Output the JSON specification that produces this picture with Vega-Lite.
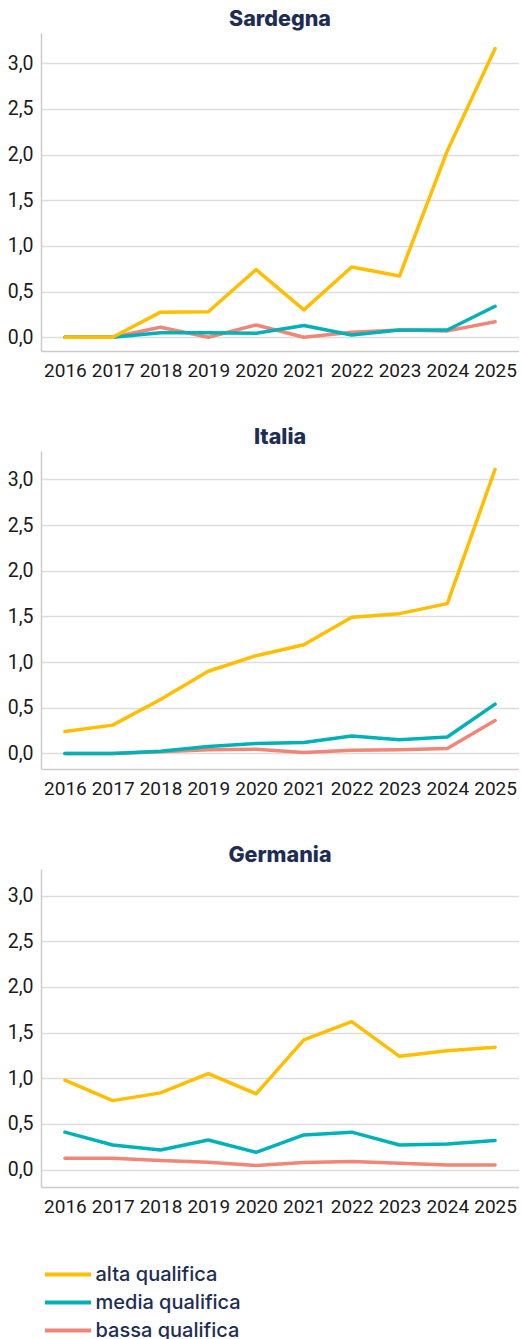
{
  "$schema": "https://vega.github.io/schema/vega-lite/v6.json",
  "padding": {"left": 7, "top": 8, "right": 0, "bottom": 0},
  "background": "white",
  "datasets": {
    "d": [
      {"area": "Sardegna", "anno": "2016", "livello": "bassa qualifica", "valore": 0.0},
      {"area": "Sardegna", "anno": "2017", "livello": "bassa qualifica", "valore": 0.0},
      {"area": "Sardegna", "anno": "2018", "livello": "bassa qualifica", "valore": 0.11},
      {"area": "Sardegna", "anno": "2019", "livello": "bassa qualifica", "valore": 0.0},
      {"area": "Sardegna", "anno": "2020", "livello": "bassa qualifica", "valore": 0.135},
      {"area": "Sardegna", "anno": "2021", "livello": "bassa qualifica", "valore": 0.0},
      {"area": "Sardegna", "anno": "2022", "livello": "bassa qualifica", "valore": 0.055},
      {"area": "Sardegna", "anno": "2023", "livello": "bassa qualifica", "valore": 0.08},
      {"area": "Sardegna", "anno": "2024", "livello": "bassa qualifica", "valore": 0.07},
      {"area": "Sardegna", "anno": "2025", "livello": "bassa qualifica", "valore": 0.17},
      {"area": "Sardegna", "anno": "2016", "livello": "media qualifica", "valore": 0.0},
      {"area": "Sardegna", "anno": "2017", "livello": "media qualifica", "valore": 0.0},
      {"area": "Sardegna", "anno": "2018", "livello": "media qualifica", "valore": 0.05},
      {"area": "Sardegna", "anno": "2019", "livello": "media qualifica", "valore": 0.05},
      {"area": "Sardegna", "anno": "2020", "livello": "media qualifica", "valore": 0.045},
      {"area": "Sardegna", "anno": "2021", "livello": "media qualifica", "valore": 0.13},
      {"area": "Sardegna", "anno": "2022", "livello": "media qualifica", "valore": 0.025},
      {"area": "Sardegna", "anno": "2023", "livello": "media qualifica", "valore": 0.08},
      {"area": "Sardegna", "anno": "2024", "livello": "media qualifica", "valore": 0.08},
      {"area": "Sardegna", "anno": "2025", "livello": "media qualifica", "valore": 0.34},
      {"area": "Sardegna", "anno": "2016", "livello": "alta qualifica", "valore": 0.0},
      {"area": "Sardegna", "anno": "2017", "livello": "alta qualifica", "valore": 0.0},
      {"area": "Sardegna", "anno": "2018", "livello": "alta qualifica", "valore": 0.275},
      {"area": "Sardegna", "anno": "2019", "livello": "alta qualifica", "valore": 0.28},
      {"area": "Sardegna", "anno": "2020", "livello": "alta qualifica", "valore": 0.74},
      {"area": "Sardegna", "anno": "2021", "livello": "alta qualifica", "valore": 0.3},
      {"area": "Sardegna", "anno": "2022", "livello": "alta qualifica", "valore": 0.77},
      {"area": "Sardegna", "anno": "2023", "livello": "alta qualifica", "valore": 0.67},
      {"area": "Sardegna", "anno": "2024", "livello": "alta qualifica", "valore": 2.04},
      {"area": "Sardegna", "anno": "2025", "livello": "alta qualifica", "valore": 3.16},
      {"area": "Italia", "anno": "2016", "livello": "bassa qualifica", "valore": 0.0},
      {"area": "Italia", "anno": "2017", "livello": "bassa qualifica", "valore": 0.0},
      {"area": "Italia", "anno": "2018", "livello": "bassa qualifica", "valore": 0.02},
      {"area": "Italia", "anno": "2019", "livello": "bassa qualifica", "valore": 0.04},
      {"area": "Italia", "anno": "2020", "livello": "bassa qualifica", "valore": 0.045},
      {"area": "Italia", "anno": "2021", "livello": "bassa qualifica", "valore": 0.01},
      {"area": "Italia", "anno": "2022", "livello": "bassa qualifica", "valore": 0.035},
      {"area": "Italia", "anno": "2023", "livello": "bassa qualifica", "valore": 0.04},
      {"area": "Italia", "anno": "2024", "livello": "bassa qualifica", "valore": 0.055},
      {"area": "Italia", "anno": "2025", "livello": "bassa qualifica", "valore": 0.36},
      {"area": "Italia", "anno": "2016", "livello": "media qualifica", "valore": 0.0},
      {"area": "Italia", "anno": "2017", "livello": "media qualifica", "valore": 0.0},
      {"area": "Italia", "anno": "2018", "livello": "media qualifica", "valore": 0.025},
      {"area": "Italia", "anno": "2019", "livello": "media qualifica", "valore": 0.077},
      {"area": "Italia", "anno": "2020", "livello": "media qualifica", "valore": 0.11},
      {"area": "Italia", "anno": "2021", "livello": "media qualifica", "valore": 0.12},
      {"area": "Italia", "anno": "2022", "livello": "media qualifica", "valore": 0.19},
      {"area": "Italia", "anno": "2023", "livello": "media qualifica", "valore": 0.15},
      {"area": "Italia", "anno": "2024", "livello": "media qualifica", "valore": 0.18},
      {"area": "Italia", "anno": "2025", "livello": "media qualifica", "valore": 0.54},
      {"area": "Italia", "anno": "2016", "livello": "alta qualifica", "valore": 0.24},
      {"area": "Italia", "anno": "2017", "livello": "alta qualifica", "valore": 0.31},
      {"area": "Italia", "anno": "2018", "livello": "alta qualifica", "valore": 0.59},
      {"area": "Italia", "anno": "2019", "livello": "alta qualifica", "valore": 0.9},
      {"area": "Italia", "anno": "2020", "livello": "alta qualifica", "valore": 1.07},
      {"area": "Italia", "anno": "2021", "livello": "alta qualifica", "valore": 1.19},
      {"area": "Italia", "anno": "2022", "livello": "alta qualifica", "valore": 1.49},
      {"area": "Italia", "anno": "2023", "livello": "alta qualifica", "valore": 1.53},
      {"area": "Italia", "anno": "2024", "livello": "alta qualifica", "valore": 1.64},
      {"area": "Italia", "anno": "2025", "livello": "alta qualifica", "valore": 3.11},
      {"area": "Germania", "anno": "2016", "livello": "bassa qualifica", "valore": 0.125},
      {"area": "Germania", "anno": "2017", "livello": "bassa qualifica", "valore": 0.125},
      {"area": "Germania", "anno": "2018", "livello": "bassa qualifica", "valore": 0.1},
      {"area": "Germania", "anno": "2019", "livello": "bassa qualifica", "valore": 0.08},
      {"area": "Germania", "anno": "2020", "livello": "bassa qualifica", "valore": 0.045},
      {"area": "Germania", "anno": "2021", "livello": "bassa qualifica", "valore": 0.077},
      {"area": "Germania", "anno": "2022", "livello": "bassa qualifica", "valore": 0.088},
      {"area": "Germania", "anno": "2023", "livello": "bassa qualifica", "valore": 0.07},
      {"area": "Germania", "anno": "2024", "livello": "bassa qualifica", "valore": 0.05},
      {"area": "Germania", "anno": "2025", "livello": "bassa qualifica", "valore": 0.05},
      {"area": "Germania", "anno": "2016", "livello": "media qualifica", "valore": 0.41},
      {"area": "Germania", "anno": "2017", "livello": "media qualifica", "valore": 0.27},
      {"area": "Germania", "anno": "2018", "livello": "media qualifica", "valore": 0.215},
      {"area": "Germania", "anno": "2019", "livello": "media qualifica", "valore": 0.325},
      {"area": "Germania", "anno": "2020", "livello": "media qualifica", "valore": 0.19},
      {"area": "Germania", "anno": "2021", "livello": "media qualifica", "valore": 0.38},
      {"area": "Germania", "anno": "2022", "livello": "media qualifica", "valore": 0.41},
      {"area": "Germania", "anno": "2023", "livello": "media qualifica", "valore": 0.27},
      {"area": "Germania", "anno": "2024", "livello": "media qualifica", "valore": 0.28},
      {"area": "Germania", "anno": "2025", "livello": "media qualifica", "valore": 0.32},
      {"area": "Germania", "anno": "2016", "livello": "alta qualifica", "valore": 0.98},
      {"area": "Germania", "anno": "2017", "livello": "alta qualifica", "valore": 0.755},
      {"area": "Germania", "anno": "2018", "livello": "alta qualifica", "valore": 0.84},
      {"area": "Germania", "anno": "2019", "livello": "alta qualifica", "valore": 1.05},
      {"area": "Germania", "anno": "2020", "livello": "alta qualifica", "valore": 0.83},
      {"area": "Germania", "anno": "2021", "livello": "alta qualifica", "valore": 1.42},
      {"area": "Germania", "anno": "2022", "livello": "alta qualifica", "valore": 1.62},
      {"area": "Germania", "anno": "2023", "livello": "alta qualifica", "valore": 1.24},
      {"area": "Germania", "anno": "2024", "livello": "alta qualifica", "valore": 1.3},
      {"area": "Germania", "anno": "2025", "livello": "alta qualifica", "valore": 1.34}
    ]
  },
  "data": {"name": "d"},
  "config": {
    "view": {"stroke": null},
    "font": "Roboto",
    "title": {"font": "Inter", "fontSize": 21.5, "fontWeight": 800, "color": "#1e2d52", "offset": 3},
    "axis": {"labelFont": "Roboto", "labelColor": "#1a1a1a", "ticks": false, "domainColor": "#cccccc", "domainWidth": 1.5, "title": null},
    "legend": {"labelFont": "Inter", "labelFontSize": 20, "labelFontWeight": 500, "labelColor": "#1e2d52"}
  },
  "spacing": 46,
  "vconcat": [
    {
      "title": "Sardegna",
      "width": 478, "height": 318,
      "transform": [{"filter": "datum.area === 'Sardegna'"}],
      "mark": {"type": "line", "strokeWidth": 3.5, "strokeCap": "round", "strokeJoin": "round"},
      "encoding": {
        "x": {"field": "anno", "type": "ordinal", "scale": {"type": "point", "padding": 0.5}, "sort": null,
              "axis": {"labelAngle": 0, "labelFontSize": 19, "labelPadding": 10, "labelOverlap": false, "grid": false, "domain": true}},
        "y": {"field": "valore", "type": "quantitative", "scale": {"domain": [-0.15, 3.33], "nice": false, "zero": false},
              "axis": {"values": [0, 0.5, 1, 1.5, 2, 2.5, 3], "labelExpr": "replace(format(datum.value, '.1f'), '.', ',')", "labelFontSize": 19.5, "labelPadding": 8, "grid": true, "gridColor": "#dddddd", "gridWidth": 1.5}},
        "color": {"field": "livello", "type": "nominal",
                  "scale": {"domain": ["alta qualifica", "media qualifica", "bassa qualifica"], "range": ["#FFBE00", "#00B2B8", "#F08678"]},
                  "legend": {"orient": "none", "legendX": 13.5, "legendY": 1228, "title": null, "symbolType": "M-2,0H2", "symbolStrokeWidth": 4, "symbolSize": 529, "rowPadding": 4, "labelOffset": 14}}
      }
    },
    {
      "title": "Italia",
      "width": 478, "height": 318,
      "transform": [{"filter": "datum.area === 'Italia'"}],
      "mark": {"type": "line", "strokeWidth": 3.5, "strokeCap": "round", "strokeJoin": "round"},
      "encoding": {
        "x": {"field": "anno", "type": "ordinal", "scale": {"type": "point", "padding": 0.5}, "sort": null,
              "axis": {"labelAngle": 0, "labelFontSize": 19, "labelPadding": 10, "labelOverlap": false, "grid": false, "domain": true}},
        "y": {"field": "valore", "type": "quantitative", "scale": {"domain": [-0.17, 3.31], "nice": false, "zero": false},
              "axis": {"values": [0, 0.5, 1, 1.5, 2, 2.5, 3], "labelExpr": "replace(format(datum.value, '.1f'), '.', ',')", "labelFontSize": 19.5, "labelPadding": 8, "grid": true, "gridColor": "#dddddd", "gridWidth": 1.5}},
        "color": {"field": "livello", "type": "nominal"}
      }
    },
    {
      "title": "Germania",
      "width": 478, "height": 318,
      "transform": [{"filter": "datum.area === 'Germania'"}],
      "mark": {"type": "line", "strokeWidth": 3.5, "strokeCap": "round", "strokeJoin": "round"},
      "encoding": {
        "x": {"field": "anno", "type": "ordinal", "scale": {"type": "point", "padding": 0.5}, "sort": null,
              "axis": {"labelAngle": 0, "labelFontSize": 19, "labelPadding": 10, "labelOverlap": false, "grid": false, "domain": true}},
        "y": {"field": "valore", "type": "quantitative", "scale": {"domain": [-0.19, 3.29], "nice": false, "zero": false},
              "axis": {"values": [0, 0.5, 1, 1.5, 2, 2.5, 3], "labelExpr": "replace(format(datum.value, '.1f'), '.', ',')", "labelFontSize": 19.5, "labelPadding": 8, "grid": true, "gridColor": "#dddddd", "gridWidth": 1.5}},
        "color": {"field": "livello", "type": "nominal"}
      }
    }
  ]
}
